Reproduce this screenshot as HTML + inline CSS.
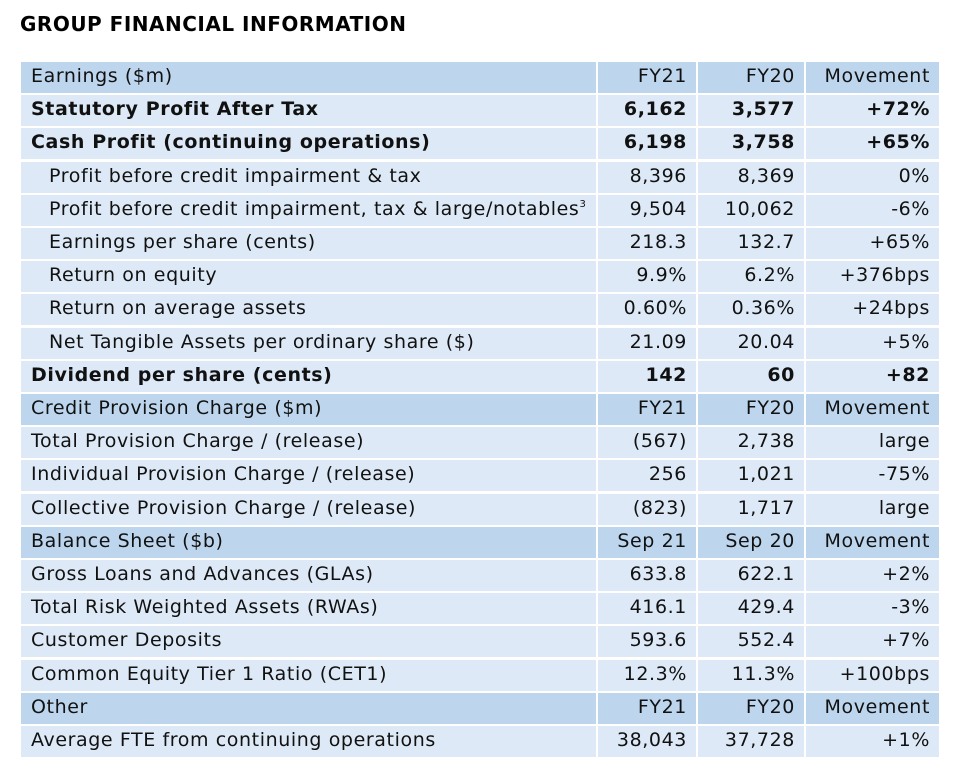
<!DOCTYPE html>
<html><head><meta charset="utf-8"><style>
body{margin:0;width:967px;height:778px;background:#fff;font-family:"DejaVu Sans",Verdana,sans-serif;position:relative;overflow:hidden}
.t{position:absolute;left:20px;top:12px;font-size:20px;font-weight:bold;color:#000;letter-spacing:0.5px}
.r{position:absolute;left:21px;width:918px;height:31px;font-size:19px;color:#111;letter-spacing:0.6px}
.r div{position:absolute;top:0;height:31px;line-height:29px;white-space:nowrap;box-sizing:border-box}
.h{background:#bdd6ee}.d{background:#dde9f6}
.b{font-weight:bold}
.c0{left:0;width:575px;padding-left:10px}
.c1{left:577px;width:98px;text-align:right;padding-right:9px}
.c2{left:677px;width:106px;text-align:right;padding-right:9px}
.c3{left:785px;width:133px;text-align:right;padding-right:9px}
.i{padding-left:28px}
sup{font-size:10px;vertical-align:8px;line-height:0}
</style></head><body>
<div class="t">GROUP FINANCIAL INFORMATION</div>
<div id="tb"></div>
<script>
var rows=[
["h","","Earnings ($m)","FY21","FY20","Movement"],
["d","b","Statutory Profit After Tax","6,162","3,577","+72%"],
["d","b","Cash Profit (continuing operations)","6,198","3,758","+65%"],
["d","i","Profit before credit impairment &amp; tax","8,396","8,369","0%"],
["d","i","Profit before credit impairment, tax &amp; large/notables<sup>3</sup>","9,504","10,062","-6%"],
["d","i","Earnings per share (cents)","218.3","132.7","+65%"],
["d","i","Return on equity","9.9%","6.2%","+376bps"],
["d","i","Return on average assets","0.60%","0.36%","+24bps"],
["d","i","Net Tangible Assets per ordinary share ($)","21.09","20.04","+5%"],
["d","b","Dividend per share (cents)","142","60","+82"],
["h","","Credit Provision Charge ($m)","FY21","FY20","Movement"],
["d","","Total Provision Charge / (release)","(567)","2,738","large"],
["d","","Individual Provision Charge / (release)","256","1,021","-75%"],
["d","","Collective Provision Charge / (release)","(823)","1,717","large"],
["h","","Balance Sheet ($b)","Sep 21","Sep 20","Movement"],
["d","","Gross Loans and Advances (GLAs)","633.8","622.1","+2%"],
["d","","Total Risk Weighted Assets (RWAs)","416.1","429.4","-3%"],
["d","","Customer Deposits","593.6","552.4","+7%"],
["d","","Common Equity Tier 1 Ratio (CET1)","12.3%","11.3%","+100bps"],
["h","","Other","FY21","FY20","Movement"],
["d","","Average FTE from continuing operations","38,043","37,728","+1%"]];
var h="";
rows.forEach(function(r,i){
var top=62+i*33.2;
var b=r[1]=="b"?" b":"";
h+='<div class="r'+b+'" style="top:'+top+'px">'+
'<div class="'+r[0]+' c0'+(r[1]=="i"?" i":"")+'">'+r[2]+'</div>'+
'<div class="'+r[0]+' c1">'+r[3]+'</div>'+
'<div class="'+r[0]+' c2">'+r[4]+'</div>'+
'<div class="'+r[0]+' c3">'+r[5]+'</div></div>';
});
document.getElementById("tb").innerHTML=h;
</script>
</body></html>
